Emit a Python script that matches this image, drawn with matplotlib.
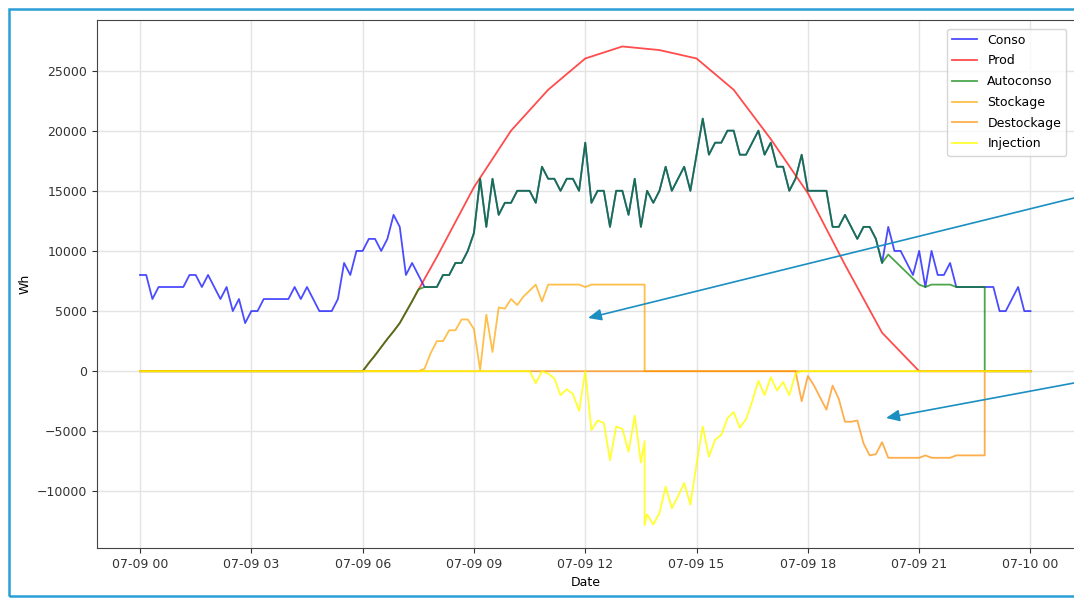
import numpy as np
import pandas as pd
import matplotlib
matplotlib.use("Agg")
import matplotlib.pyplot as plt
import matplotlib.dates as mdates
from matplotlib.patches import Rectangle

# 10 minute samples for one day, production only known hourly
times = pd.date_range("2021-07-09 00:00", periods=145, freq="10min")
prod_times = pd.date_range("2021-07-09 00:00", periods=25, freq="h")

conso = [8000, 8000, 6000, 7000, 7000, 7000, 7000, 7000, 8000, 8000,
         7000, 8000, 7000, 6000, 7000, 5000, 6000, 4000, 5000, 5000,
         6000, 6000, 6000, 6000, 6000, 7000, 6000, 7000, 6000, 5000,
         5000, 5000, 6000, 9000, 8000, 10000, 10000, 11000, 11000, 10000,
         11000, 13000, 12000, 8000, 9000, 8000, 7000, 7000, 7000, 8000,
         8000, 9000, 9000, 10000, 11500, 16000, 12000, 16000, 13000, 14000,
         14000, 15000, 15000, 15000, 14000, 17000, 16000, 16000, 15000, 16000,
         16000, 15000, 19000, 14000, 15000, 15000, 12000, 15000, 15000, 13000,
         16000, 12000, 15000, 14000, 15000, 17000, 15000, 16000, 17000, 15000,
         18000, 21000, 18000, 19000, 19000, 20000, 20000, 18000, 18000, 19000,
         20000, 18000, 19000, 17000, 17000, 15000, 16000, 18000, 15000, 15000,
         15000, 15000, 12000, 12000, 13000, 12000, 11000, 12000, 12000, 11000,
         9000, 12000, 10000, 10000, 9000, 8000, 10000, 7000, 10000, 8000,
         8000, 9000, 7000, 7000, 7000, 7000, 7000, 7000, 7000, 5000,
         5000, 6000, 7000, 5000, 5000]

prod = [0, 0, 0, 0, 0, 0, 0, 4000, 9500, 15300, 20000, 23400, 26000,
        27000, 26700, 26000, 23400, 19300, 14800, 8850, 3200, 0, 0, 0, 0]

autoconso = ([0] * 37 +
             [700, 1300, 2000, 2700, 3300, 4000, 4900, 5800, 6800] +
             [7000, 7000, 7000, 8000,
              8000, 9000, 9000, 10000, 11500, 16000, 12000, 16000, 13000, 14000,
              14000, 15000, 15000, 15000, 14000, 17000, 16000, 16000, 15000, 16000,
              16000, 15000, 19000, 14000, 15000, 15000, 12000, 15000, 15000, 13000,
              16000, 12000, 15000, 14000, 15000, 17000, 15000, 16000, 17000, 15000,
              18000, 21000, 18000, 19000, 19000, 20000, 20000, 18000, 18000, 19000,
              20000, 18000, 19000, 17000, 17000, 15000, 16000, 18000, 15000, 15000,
              15000, 15000, 12000, 12000, 13000, 12000, 11000, 12000, 12000, 11000] +
             [9000, 9700, 9200, 8700, 8200, 7700, 7200, 7000, 7200, 7200,
              7200, 7200, 7000, 7000, 7000, 7000, 7000] +
             [0] * 8)

stockage = ([0] * 46 +
            [200, 1500, 2500, 2500, 3400, 3400, 4300, 4300, 3500, 100,
             4700, 1600, 5300, 5200, 6000, 5500, 6200, 6700, 7200, 5800,
             7200, 7200, 7200, 7200, 7200, 7200, 7000, 7200, 7200, 7200,
             7200, 7200, 7200, 7200, 7200, 7200] +
            [0] * 63)

destockage = ([0] * 107 +
              [-2500, -400, -1200, -2200, -3200, -1200, -2300, -4200, -4200, -4100,
               -6000, -7000, -6900, -5900, -7200, -7200, -7200, -7200, -7200, -7200,
               -7000, -7200, -7200, -7200, -7200, -7000, -7000, -7000, -7000, -7000] +
              [0] * 8)

injection = ([0] * 64 +
             [-1000, 0, -200, -600, -2000, -1500, -1900, -3300, 0, -4900,
              -4100, -4300, -7400, -4600, -4800, -6700, -3700, -7600,
              -11900, -12750, -11800, -9600, -11400, -10400, -9300, -11100, -7700, -4600,
              -7100, -5700, -5300, -3900, -3400, -4700, -4000, -2500, -800, -2000,
              -500, -1600, -900, -2000, -200] +
             [0] * 38)

# battery gets full / empty between two samples
full_time = pd.Timestamp("2021-07-09 13:36")
stock_full = [7200, 0]
inject_full = [-5800, -12800]
empty_time = pd.Timestamp("2021-07-09 22:46")
destock_empty = [-7000, 0]
autoconso_empty = [7000, 0]


def add_step(values, when, pair):
    k = int(np.searchsorted(times, when))
    t = times.insert(k, when).insert(k, when)
    v = np.insert(np.asarray(values, dtype=float), [k, k], pair)
    return t, v


fig = plt.figure(figsize=(10.74, 5.98), dpi=100)
ax = fig.add_axes([97 / 1074, 50 / 598, 978 / 1074, 528 / 598])

lw = 1.3
ax.plot(times, conso, color="blue", alpha=0.7, lw=lw, label="Conso")
ax.plot(prod_times, prod, color="red", alpha=0.7, lw=lw, label="Prod")
t, v = add_step(autoconso, empty_time, autoconso_empty)
ax.plot(t, v, color="green", alpha=0.7, lw=lw, label="Autoconso")
t, v = add_step(stockage, full_time, stock_full)
ax.plot(t, v, color="orange", alpha=0.7, lw=lw, label="Stockage")
t, v = add_step(destockage, empty_time, destock_empty)
ax.plot(t, v, color="darkorange", alpha=0.7, lw=lw, label="Destockage")
t, v = add_step(injection, full_time, inject_full)
ax.plot(t, v, color="yellow", alpha=0.8, lw=lw, label="Injection")

ax.set_xlim(times[0] - pd.Timedelta(hours=1.16), times[-1] + pd.Timedelta(hours=1.2))
ax.set_ylim(-14700, 29200)
ax.xaxis.set_major_locator(mdates.HourLocator(byhour=range(0, 24, 3)))
ax.xaxis.set_major_formatter(mdates.DateFormatter("%m-%d %H"))
ax.grid(True, color="#e4e4e4", lw=1)
ax.set_axisbelow(True)
ax.tick_params(labelsize=9, colors="#333333")
for s in ax.spines.values():
    s.set_color("#444444")
ax.set_xlabel("Date", fontsize=9)
ax.set_ylabel("Wh", fontsize=9)
ax.legend(loc="upper right", fontsize=9, labelspacing=0.62, borderaxespad=0.7)

# annotation arrows and frame from the screenshot
arrow = dict(arrowstyle="-|>,head_length=0.8,head_width=0.35", color="#1b8fc2",
             lw=1.2, mutation_scale=10, shrinkA=0, shrinkB=0)
ax.annotate("", xy=(588 / 1074, 280 / 598), xycoords="figure fraction",
            xytext=(1.0, 400 / 598), textcoords="figure fraction", arrowprops=arrow)
ax.annotate("", xy=(886 / 1074, 180 / 598), xycoords="figure fraction",
            xytext=(1.0, 215 / 598), textcoords="figure fraction", arrowprops=arrow)
fig.add_artist(Rectangle((9 / 1074, 2 / 598), 1.0, 587 / 598, transform=fig.transFigure,
                         fill=False, edgecolor="#2a9fd6", lw=1.8))

fig.savefig("out.png", dpi=100)
